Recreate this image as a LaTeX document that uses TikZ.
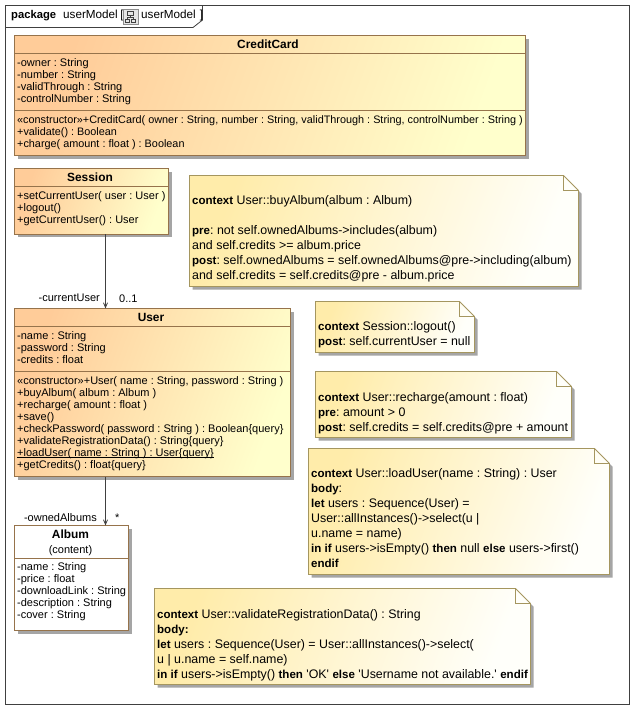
\documentclass[tikz,border=0pt]{standalone}
\usepackage{fontspec}
\setmainfont[BoldFeatures={Scale=0.93}]{Liberation Sans}
\usepackage{xcolor}
\usetikzlibrary{arrows}
\usetikzlibrary{math}
\definecolor{qorange}{RGB}{255,204,153}
\definecolor{qyellow}{RGB}{255,255,204}
\definecolor{qnote}{RGB}{255,236,170}
\definecolor{qnoteend}{RGB}{255,255,250}
\definecolor{qbrown}{RGB}{150,115,75}
\definecolor{qolive}{RGB}{165,150,95}
\definecolor{qshadow}{RGB}{165,165,165}
\definecolor{qline}{RGB}{64,64,64}
\frenchspacing
\tikzset{
  classtext/.style={inner sep=0pt, anchor=north west, align=left, font=\fontsize{11}{12}\selectfont, execute at begin node=\strut},
  classname/.style={inner sep=0pt, anchor=base, font=\fontsize{12.8}{12}\selectfont\bfseries},
  notetext/.style={inner sep=0pt, anchor=north west, align=left, font=\fontsize{12.4}{15}\selectfont, execute at begin node=\strut},
  rolelabel/.style={inner sep=0pt, anchor=base east, font=\fontsize{11}{12}\selectfont},
  headlabel/.style={inner sep=0pt, anchor=base west, font=\fontsize{11.7}{12}\selectfont},
  classbox/.style={inner sep=0pt, outer sep=0pt, anchor=north west},
  assoc/.style={color=qline, line width=0.8, -angle 45},
}
% class box: name, left, top, right, bottom
\newcommand{\umlclass}[6][shading=axis, left color=qorange, right color=qyellow, shading angle=70]{
  \fill[qshadow] (#3+3,#4+3) rectangle (#5+3,#6+3);
  \node (#2) [classbox, minimum width=#5-#3, minimum height=#6-#4, #1, draw=qbrown, line width=0.9] at (#3,#4) {};
}
% note: name, left, top, right, bottom (fold of 15)
\newcommand{\umlnote}[5]{
  \fill[qshadow] (#2+3,#3+3) -- (#4-12,#3+3) -- (#4+3,#3+18) -- (#4+3,#5+3) -- (#2+3,#5+3) -- cycle;
  \draw[qolive, line width=0.9, shading=axis, left color=qnote, right color=qnoteend, shading angle=70] (#2,#3) -- (#4-15,#3) -- (#4,#3+15) -- (#4,#5) -- (#2,#5) -- cycle;
  \draw[qolive, line width=0.9] (#4-15,#3) -- (#4-15,#3+15) -- (#4,#3+15);
  \coordinate (#1) at (#2,#3);
}
\begin{document}
\begin{tikzpicture}[x=1pt,y=-1pt]
\useasboundingbox (0,0) rectangle (638,713);
\fill[white] (0,0) rectangle (638,713);

%package frame
\draw[qline, line width=0.8] (5.5,5.5) rectangle (629.5,704.5);
\draw[qline, line width=0.8] (5.5,27.5) -- (193,27.5) -- (202.5,20) -- (202.5,5.5);
\node (pkgKeyword) [classname, anchor=base west, font=\fontsize{12.1}{12}\selectfont\bfseries] at (11,18.5) {package};
\node (pkgName) [headlabel] at (63,18.5) {userModel\hspace{2.5pt}[};
\node (pkgIconBox) [draw=black!45, fill=black!10, inner sep=0pt, minimum width=15, minimum height=15, anchor=north west] at (123,8.5) {};
\draw[qline, line width=0.5] (127,11) rectangle (133,15) (125,19) rectangle (129.5,22.5) (131,19) rectangle (135.5,22.5) (130,15) -- (130,17) (127,19) -- (127,17) -- (133,17) -- (133,19);
\node (pkgDiagram) [headlabel] at (141,18.5) {userModel\hspace{4pt}]};

%CreditCard
\umlclass{creditCard}{14.5}{35.5}{525.5}{155.5}
\draw[qbrown, line width=0.9] (14.5,53.5) -- (525.5,53.5) (14.5,110.5) -- (525.5,110.5);
\node (creditCardName) [classname] at (268,48) {CreditCard};
\node (creditCardAttrs) [classtext] at (17,58.2) {-owner : String\\-number : String\\-validThrough : String\\-controlNumber : String};
\node (creditCardOps) [classtext, font=\fontsize{10.85}{12}\selectfont] at (17,115.2) {«constructor»+CreditCard( owner : String, number : String, validThrough : String, controlNumber : String )\\+validate() : Boolean\\+charge( amount : float ) : Boolean};

%Session
\umlclass{session}{14.5}{168.5}{168.5}{234}
\draw[qbrown, line width=0.9] (14.5,186.5) -- (168.5,186.5);
\node (sessionName) [classname] at (90,181) {Session};
\node (sessionOps) [classtext] at (17,191) {+setCurrentUser( user : User )\\+logout()\\+getCurrentUser() : User};

%User
\umlclass{user}{14.5}{308.5}{290.5}{476.5}
\draw[qbrown, line width=0.9] (14.5,326.5) -- (290.5,326.5) (14.5,371.5) -- (290.5,371.5);
\node (userName) [classname] at (151,321) {User};
\node (userAttrs) [classtext] at (17,331) {-name : String\\-password : String\\-credits : float};
\node (userOps) [classtext] at (17,376) {«constructor»+User( name : String, password : String )\\+buyAlbum( album : Album )\\+recharge( amount : float )\\+save()\\+checkPassword( password : String ) : Boolean\{query\}\\+validateRegistrationData() : String\{query\}\\\underline{\smash{+loadUser( name : String ) : User\{query\}}}\\+getCredits() : float\{query\}};

%Album
\umlclass[fill=white]{album}{14.5}{525.5}{128.5}{630.5}
\draw[qbrown, line width=0.9] (14.5,558.5) -- (128.5,558.5);
\node (albumName) [classname] at (70.5,538) {Album};
\node (albumStereo) [classname, font=\fontsize{11}{12}\selectfont] at (70.5,553) {(content)};
\node (albumAttrs) [classtext] at (17,562.6) {-name : String\\-price : float\\-downloadLink : String\\-description : String\\-cover : String};

%associations
\coordinate (assocX) at (105.5,0);
\draw[assoc] (session.south west -| assocX) -- (user.north west -| assocX);
\draw[assoc] (user.south west -| assocX) -- (album.north west -| assocX);
\node (currentUserRole) [rolelabel] at (100,301) {-currentUser};
\node (currentUserMult) [rolelabel, anchor=base west] at (119,302.5) {0..1};
\node (ownedAlbumsRole) [rolelabel] at (97,521) {-ownedAlbums};
\node (ownedAlbumsMult) [rolelabel, anchor=base west] at (115,521) {*};

%notes
\umlnote{buyNote}{189.5}{175.5}{578.5}{286.5}
\node (buyText) [notetext] at (192,195.5) {\textbf{context} User::buyAlbum(album : Album)\\[15pt]\textbf{pre}: not self.ownedAlbums->includes(album)\\and self.credits >= album.price\\\textbf{post}: self.ownedAlbums = self.ownedAlbums@pre->including(album)\\and self.credits = self.credits@pre - album.price};

\umlnote{logoutNote}{315.5}{301.5}{474.5}{352.5}
\node (logoutText) [notetext] at (318,321.7) {\textbf{context} Session::logout()\\\textbf{post}: self.currentUser = null};

\umlnote{rechargeNote}{315.5}{371.5}{571.5}{437.5}
\node (rechargeText) [notetext] at (318,392) {\textbf{context} User::recharge(amount : float)\\\textbf{pre}: amount > 0\\\textbf{post}: self.credits = self.credits@pre + amount};

\umlnote{loadNote}{308.5}{448.5}{609.5}{574.5}
\node (loadText) [notetext] at (311,468.7) {\textbf{context} User::loadUser(name : String) : User\\\textbf{body}:\\\textbf{let} users : Sequence(User) =\\User::allInstances()->select(u |\\u.name = name)\\\textbf{in if} users->isEmpty() \textbf{then} null \textbf{else} users->first()\\\textbf{endif}};

\umlnote{validateNote}{154.5}{588.5}{530.5}{684.5}
\node (validateText) [notetext] at (157,608.9) {\textbf{context} User::validateRegistrationData() : String\\\textbf{body:}\\\textbf{let} users : Sequence(User) = User::allInstances()->select(\\u | u.name = self.name)\\\textbf{in if} users->isEmpty() \textbf{then} \textquotesingle OK\textquotesingle{} \textbf{else} \textquotesingle Username not available.\textquotesingle{} \textbf{endif}};
\end{tikzpicture}
\end{document}
